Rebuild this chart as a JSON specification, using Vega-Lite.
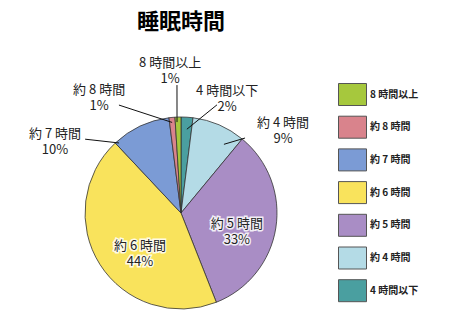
{
  "$schema": "https://vega.github.io/schema/vega-lite/v6.json",
  "autosize": "none",
  "width": 362,
  "height": 242,
  "padding": {"left": 0, "top": 92, "right": 112, "bottom": 0},
  "background": "white",
  "config": {"view": {"stroke": null}, "font": "Noto Sans CJK JP"},
  "title": {"text": "睡眠時間", "font": "Noto Sans CJK JP", "fontSize": 22, "fontWeight": "bold", "color": "#000", "anchor": "middle", "offset": 23},
  "data": {"values": [
    {"name": "4 時間以下", "value": 2, "rank": 1},
    {"name": "約 4 時間", "value": 9, "rank": 2},
    {"name": "約 5 時間", "value": 33, "rank": 3},
    {"name": "約 6 時間", "value": 44, "rank": 4},
    {"name": "約 7 時間", "value": 10, "rank": 5},
    {"name": "約 8 時間", "value": 1, "rank": 6},
    {"name": "8 時間以上", "value": 1, "rank": 7}
  ]},
  "transform": [
    {"stack": "value", "groupby": [], "sort": [{"field": "rank", "order": "ascending"}], "as": ["s0", "s1"]},
    {"calculate": "(datum.s0 + datum.s1) / 2 * 3.6", "as": "midDeg"},
    {"calculate": "datum.name + '\\n' + datum.value + '%'", "as": "lbl"},
    {"calculate": "(datum.midDeg + [18.4, 27.8, 9.7, -12.6, -35.4, -30.1, -2.6][datum.rank - 1]) * PI / 180", "as": "la"},
    {"calculate": "[123, 131, 59, 58, 144.6, 141, 142][datum.rank - 1]", "as": "lr"},
    {"calculate": "datum.lr * sin(datum.la)", "as": "lx"},
    {"calculate": "datum.lr * cos(datum.la)", "as": "ly"},
    {"calculate": "(datum.midDeg + [0.4, 8.6, 0, 0, -16.3, -0.2, -0.7][datum.rank - 1]) * PI / 180", "as": "ia"},
    {"calculate": "[84, 81, 0, 0, 93.5, 91, 91][datum.rank - 1]", "as": "ir"},
    {"calculate": "(datum.midDeg + [14.8, 17.1, 0, 0, -27.2, -24.5, 0][datum.rank - 1]) * PI / 180", "as": "oa"},
    {"calculate": "[114, 98.6, 0, 0, 121, 124.5, 128][datum.rank - 1]", "as": "or"},
    {"calculate": "datum.ir * sin(datum.ia)", "as": "x1"},
    {"calculate": "datum.ir * cos(datum.ia)", "as": "y1"},
    {"calculate": "datum.or * sin(datum.oa)", "as": "x2"},
    {"calculate": "datum.or * cos(datum.oa)", "as": "y2"}
  ],
  "layer": [
    {
      "mark": {"type": "arc", "outerRadius": 96, "stroke": "#333", "strokeWidth": 0.8},
      "encoding": {
        "theta": {"field": "s0", "type": "quantitative", "scale": {"domain": [0, 100]}, "stack": null},
        "theta2": {"field": "s1"},
        "color": {
          "field": "name", "type": "nominal",
          "scale": {
            "domain": ["8 時間以上", "約 8 時間", "約 7 時間", "約 6 時間", "約 5 時間", "約 4 時間", "4 時間以下"],
            "range": ["#a6c83d", "#d9838c", "#7b9bd5", "#f9e35c", "#a98dc5", "#b4dbe6", "#4a9fa0"]
          },
          "legend": {
            "title": null, "orient": "none", "legendX": 341, "legendY": -9,
            "symbolType": "M-1.2727,-1L1.2727,-1L1.2727,1L-1.2727,1Z",
            "symbolSize": 484, "symbolStrokeColor": "#555", "symbolStrokeWidth": 1,
            "labelFont": "Noto Sans CJK JP", "labelFontSize": 10, "labelFontWeight": "bold",
            "labelColor": "#222", "rowPadding": 5.7, "labelOffset": 6, "padding": 0
          }
        }
      }
    },
    {
      "transform": [{"filter": "datum.value <= 10"}],
      "mark": {"type": "rule", "stroke": "#111", "strokeWidth": 1},
      "encoding": {
        "x": {"field": "x1", "type": "quantitative", "scale": {"domain": [-181, 181], "nice": false, "zero": false}, "axis": null},
        "y": {"field": "y1", "type": "quantitative", "scale": {"domain": [-121, 121], "nice": false, "zero": false}, "axis": null},
        "x2": {"field": "x2"},
        "y2": {"field": "y2"}
      }
    },
    {
      "transform": [{"filter": "datum.value > 20"}],
      "mark": {"type": "text", "font": "Noto Sans CJK JP", "fontSize": 13, "lineHeight": 16, "lineBreak": "\n", "align": "center", "baseline": "middle", "dy": -8, "stroke": "white", "strokeWidth": 3, "strokeOpacity": 0.85, "fill": "white"},
      "encoding": {
        "x": {"field": "lx", "type": "quantitative"},
        "y": {"field": "ly", "type": "quantitative"},
        "text": {"field": "lbl", "type": "nominal"}
      }
    },
    {
      "mark": {"type": "text", "font": "Noto Sans CJK JP", "fontSize": 13, "lineHeight": 16, "lineBreak": "\n", "align": "center", "baseline": "middle", "dy": -8, "fill": "#222"},
      "encoding": {
        "x": {"field": "lx", "type": "quantitative"},
        "y": {"field": "ly", "type": "quantitative"},
        "text": {"field": "lbl", "type": "nominal"}
      }
    }
  ]
}
